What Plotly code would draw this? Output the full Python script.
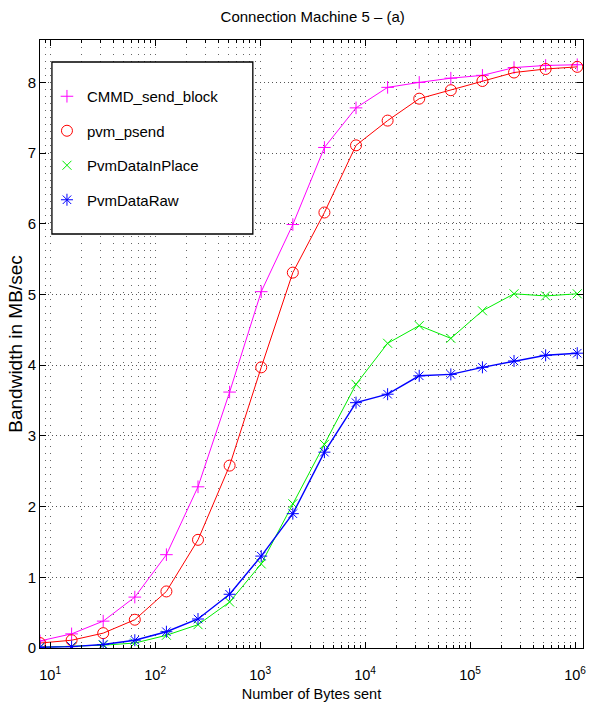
import plotly.graph_objects as go

# Message sizes (bytes) and measured bandwidth (MB/sec)
msg_bytes = [8, 16, 32, 64, 128, 256, 512, 1024, 2048, 4096, 8192, 16384,
             32768, 65536, 131072, 262144, 524288, 1048576]

cmmd_send_block = [0.10, 0.20, 0.38, 0.72, 1.32, 2.28, 3.62, 5.04, 5.99, 7.08,
                   7.64, 7.93, 8.00, 8.06, 8.10, 8.21, 8.24, 8.25]
pvm_psend = [0.07, 0.11, 0.21, 0.40, 0.80, 1.53, 2.58, 3.97, 5.31, 6.16,
             7.11, 7.46, 7.77, 7.89, 8.02, 8.14, 8.19, 8.22]
pvm_data_in_place = [0.01, 0.02, 0.04, 0.07, 0.18, 0.33, 0.65, 1.19, 2.04, 2.88,
                     3.73, 4.31, 4.56, 4.38, 4.77, 5.01, 4.98, 5.01]
pvm_data_raw = [0.01, 0.02, 0.05, 0.11, 0.23, 0.41, 0.76, 1.30, 1.90, 2.77,
                3.47, 3.59, 3.85, 3.87, 3.97, 4.06, 4.14, 4.17]

x_tick_vals = [10, 100, 1000, 10000, 100000, 1000000]
x_tick_text = ["10<sup>1</sup>", "10<sup>2</sup>", "10<sup>3</sup>",
               "10<sup>4</sup>", "10<sup>5</sup>", "10<sup>6</sup>"]
y_tick_vals = [0, 1, 2, 3, 4, 5, 6, 7, 8]

series = [
    ("CMMD_send_block", cmmd_send_block, "#ff00ff", "cross-thin", 9, 1),
    ("pvm_psend", pvm_psend, "#ff0000", "circle-open", 11, 1),
    ("PvmDataInPlace", pvm_data_in_place, "#00ee00", "x-thin", 9, 1),
    ("PvmDataRaw", pvm_data_raw, "#0000ff", "asterisk", 10, 1.4),
]

minor_x = [m * 10 ** e for e in range(0, 7) for m in range(2, 10)
           if 8 <= m * 10 ** e <= 1.19e6]

FONT = "Liberation Sans, Arial, sans-serif"

fig = go.Figure()
for i, (name, vals, color, sym, size, lw) in enumerate(series):
    fig.add_trace(go.Scatter(
        x=msg_bytes, y=vals, mode="lines+markers", name=name,
        line=dict(color=color, width=lw),
        marker=dict(symbol=sym, size=size, color=color,
                    line=dict(color=color, width=1)),
        showlegend=False,
    ))
    # marker-only legend entry
    fig.add_trace(go.Scatter(
        x=[None], y=[None], mode="markers", name=name,
        marker=dict(symbol=sym, size=size, color=color,
                    line=dict(color=color, width=1)),
        legendgroup=f"g{i}", showlegend=True,
    ))

# legend frame
fig.add_shape(type="rect", xref="paper", yref="paper",
              x0=(52 - 40) / 546, x1=(254 - 40) / 546,
              y0=(648 - 234) / 608, y1=(648 - 62) / 608,
              fillcolor="white", line=dict(color="black", width=1.3),
              layer="above")

fig.update_layout(
    width=590, height=709,
    margin=dict(l=40, r=4, t=40, b=61),
    paper_bgcolor="white", plot_bgcolor="white",
    font=dict(family=FONT, size=14, color="black"),
    title=dict(text="Connection Machine 5 \u2013 (a)", x=0.53, xanchor="center",
               y=1 - 17 / 709, yanchor="middle",
               font=dict(family=FONT, size=15, color="black")),
    legend=dict(x=(47 - 40) / 546, y=(648 - 80) / 608, xanchor="left", yanchor="top",
                bgcolor="rgba(0,0,0,0)", borderwidth=0, tracegroupgap=12,
                font=dict(family=FONT, size=15, color="black")),
    xaxis=dict(
        type="log", range=[0.90309, 6.0755],
        tickvals=x_tick_vals, ticktext=x_tick_text,
        ticks="inside", ticklen=6, tickcolor="black",
        ticklabelstandoff=14,
        showline=True, linecolor="black", linewidth=1, mirror="ticks",
        showgrid=True, gridcolor="#666666", griddash="1px,6px", gridwidth=1,
        minor=dict(tickvals=minor_x, ticks="inside", ticklen=3, tickcolor="black",
                   showgrid=True, gridcolor="#666666", griddash="1px,6px"),
        zeroline=False,
        title=dict(text="Number of Bytes sent", standoff=6,
                   font=dict(family=FONT, size=14.5)),
        tickfont=dict(family=FONT, size=14.5),
    ),
    yaxis=dict(
        range=[0, 8.6], tickvals=y_tick_vals,
        ticks="inside", ticklen=6, tickcolor="black",
        showline=True, linecolor="black", linewidth=1, mirror="ticks",
        showgrid=True, gridcolor="#555555", griddash="1px,3px", gridwidth=1,
        zeroline=False,
        title=dict(text="Bandwidth in MB/sec", standoff=0,
                   font=dict(family=FONT, size=19)),
        tickfont=dict(family=FONT, size=15),
    ),
)

fig.write_html("out.html")
